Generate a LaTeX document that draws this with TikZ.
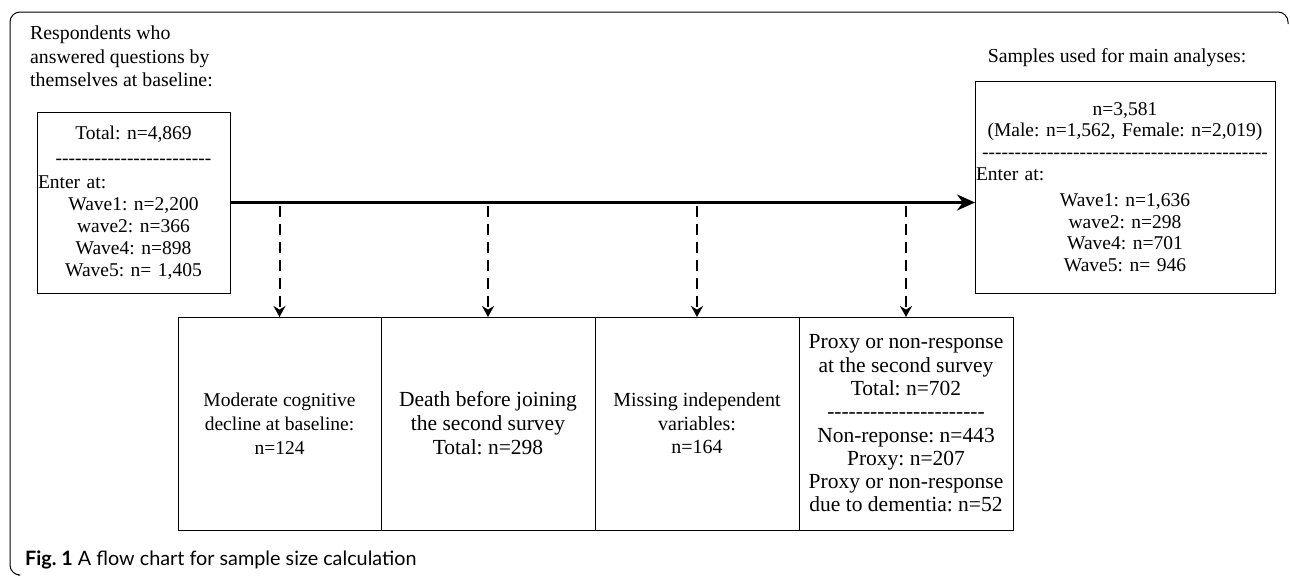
\documentclass[tikz,border=0pt]{standalone}
\usepackage{fontspec}
\setmainfont{Liberation Serif}
\newfontfamily\capfont{Lato}
\usepackage{tikz}
\usetikzlibrary{shapes,arrows,arrows.meta,positioning}
\frenchspacing
\newcommand{\dashrow}[1]{\foreach \k in {1,...,#1}{-}}
\tikzstyle{heading} = [inner sep=0pt, font=\fontsize{19.8}{23.5}\selectfont]
\tikzstyle{topbox} = [rectangle, draw, line width=0.8pt, inner xsep=1pt, inner ysep=0pt, outer sep=0pt, align=center, font=\fontsize{19.5}{21.8}\selectfont]
\tikzstyle{exclbox} = [rectangle, draw, line width=0.8pt, inner xsep=2pt, outer sep=0pt, minimum height=213pt, align=center]
\tikzstyle{flow} = [draw, line width=3.5pt, -{Stealth[length=18pt,width=16pt]}]
\tikzstyle{drop} = [draw, line width=2pt, dash pattern=on 11pt off 7pt, -{Stealth[length=11pt,width=12pt]}]

\begin{document}
\begin{tikzpicture}[x=1pt, y=-1pt]
    \useasboundingbox (0,0) rectangle (1290,576);
    \draw [line width=1pt, rounded corners=10pt] (1288,24) -- (1288,12) -- (10,12) -- (10,575) -- (18,575);

    \node [heading, anchor=north west, align=left] (headL) at (30,26) {Respondents who\\answered questions by\\themselves at baseline:};
    \node [topbox, text width=191pt, minimum height=181pt, anchor=north west] (start) at (37,112)
        {Total: n=4,869\\[3pt] \dashrow{24}\\[3pt] \makebox[\hsize][l]{Enter at:}\\ Wave1: n=2,200\\ wave2: n=366\\ Wave4: n=898\\ Wave5: n= 1,405};
    \node [heading] (headR) at (1117,58) {Samples used for main analyses:};
    \node [topbox, text width=298pt, minimum height=212pt, anchor=north west] (sample) at (975,81)
        {n=3,581\\ (Male: n=1,562, Female: n=2,019)\\ \dashrow{44}\\ \makebox[\hsize][l]{Enter at:}\\[4pt] Wave1: n=1,636\\ wave2: n=298\\ Wave4: n=701\\ Wave5: n= 946};

    \node [exclbox, minimum width=203pt, anchor=north west, font=\fontsize{19.5}{24}\selectfont] (cogn) at (178,317)
        {Moderate cognitive\\ decline at baseline:\\ n=124};
    \node [exclbox, minimum width=214pt, right=0pt of cogn, font=\fontsize{21.5}{24}\selectfont] (death)
        {Death before joining\\ the second survey\\ Total: n=298};
    \node [exclbox, minimum width=204pt, right=0pt of death, font=\fontsize{20}{23.5}\selectfont] (missing)
        {Missing independent\\ variables:\\ n=164};
    \node [exclbox, minimum width=214pt, right=0pt of missing, font=\fontsize{21.5}{23.3}\selectfont] (proxy)
        {Proxy or non-response\\ at the second survey\\ Total: n=702\\ \dashrow{22}\\ Non-reponse: n=443\\ Proxy: n=207\\ Proxy or non-response\\ due to dementia: n=52};

    \path [flow] (start.east) -- (start.east -| sample.west);
    \path [drop] ([yshift=-3pt]start.east -| cogn.north) -- (cogn.north);
    \path [drop] ([yshift=-3pt]start.east -| death.north) -- (death.north);
    \path [drop] ([yshift=-3pt]start.east -| missing.north) -- (missing.north);
    \path [drop] ([yshift=-3pt]start.east -| proxy.north) -- (proxy.north);

    \node [anchor=base west, inner sep=0pt, font=\capfont\fontsize{19.8}{21}\selectfont] (caption) at (25,565)
        {\textbf{Fig. 1} A flow chart for sample size calculation};
\end{tikzpicture}
\end{document}
